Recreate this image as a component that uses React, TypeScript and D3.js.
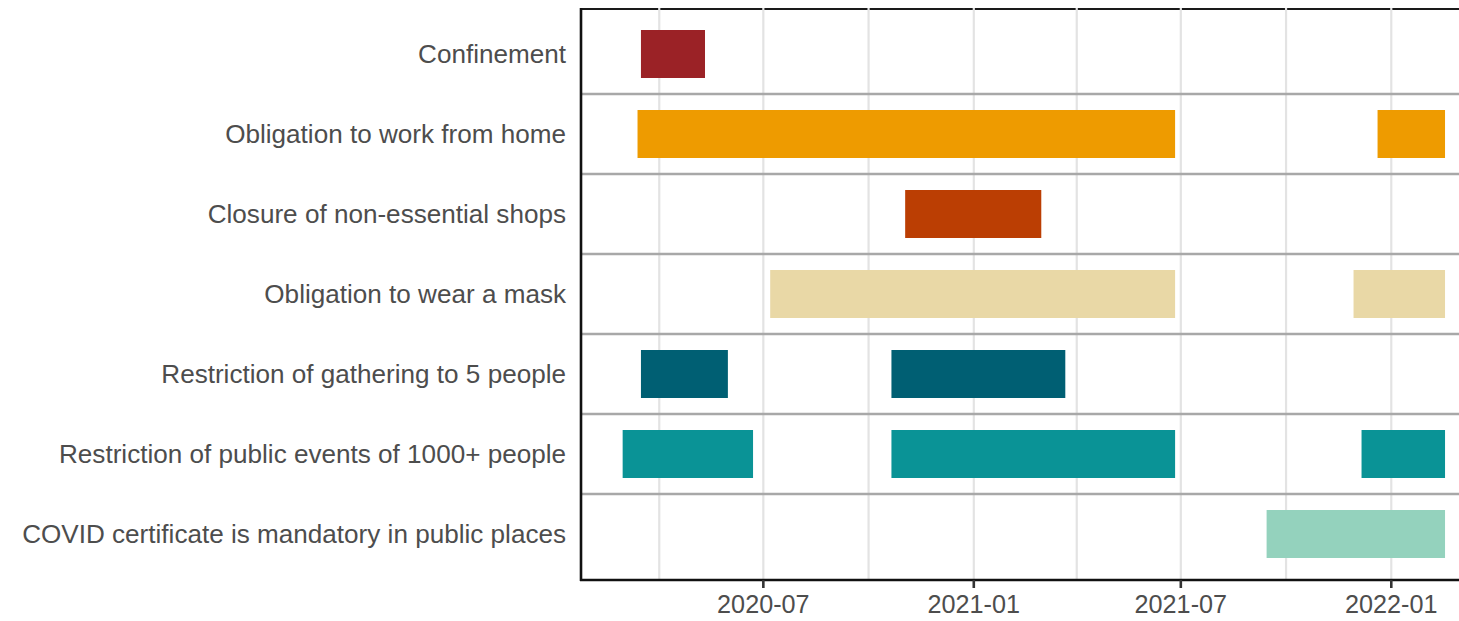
import React from "react";
import * as d3 from "d3";

const categories = [
  "Confinement",
  "Obligation to work from home",
  "Closure of non-essential shops",
  "Obligation to wear a mask",
  "Restriction of gathering to 5 people",
  "Restriction of public events of 1000+ people",
  "COVID certificate is mandatory in public places",
];

const categoryColors = ["#9B2226", "#EE9B00", "#BB3E03", "#E9D8A6", "#005F73", "#0A9396", "#94D2BD"];

// periods: [category index, start, end]
const periodCategory = [0, 1, 1, 2, 3, 3, 4, 4, 5, 5, 5, 6];
const periodStart = [
  "2020-03-16", "2020-03-13", "2021-12-20", "2020-11-02", "2020-07-07", "2021-11-29",
  "2020-03-16", "2020-10-21", "2020-02-29", "2020-10-21", "2021-12-06", "2021-09-14",
];
const periodEnd = [
  "2020-05-11", "2021-06-26", "2022-02-17", "2021-03-01", "2021-06-26", "2022-02-17",
  "2020-05-31", "2021-03-22", "2020-06-22", "2021-06-26", "2022-02-17", "2022-02-17",
];

const gridDates = ["2020-04-01", "2020-07-01", "2020-10-01", "2021-01-01", "2021-04-01", "2021-07-01", "2021-10-01", "2022-01-01"];
const tickDates = ["2020-07-01", "2021-01-01", "2021-07-01", "2022-01-01"];
const tickLabels = ["2020-07", "2021-01", "2021-07", "2022-01"];

const parse = (s: string) => new Date(s + "T00:00:00Z");

export default function App() {
  const W = 1459;
  const H = 621;
  const left = 581;
  const right = 1459;
  const top = 8;
  const bottom = 580;

  const x = d3
    .scaleUtc()
    .domain([new Date(Date.UTC(2020, 0, 23, 14)), new Date(Date.UTC(2022, 2, 1, 5))])
    .range([left, right]);
  const y = d3.scaleBand<string>().domain(categories).range([14, 574]).padding(0);
  const barH = y.bandwidth() * 0.6;

  const font = "'Liberation Sans', Arial, Helvetica, sans-serif";

  return (
    <svg width={W} height={H} style={{ position: "absolute", left: 0, top: 0, background: "#fff" }}>
      <rect x={0} y={0} width={W} height={H} fill="#fff" />
      {/* top border */}
      <line x1={left} x2={right} y1={top + 1} y2={top + 1} stroke="#1a1a1a" strokeWidth={2.2} />
      {/* vertical grid */}
      {gridDates.map((d) => (
        <line key={d} x1={x(parse(d))} x2={x(parse(d))} y1={top} y2={bottom} stroke="#e3e3e3" strokeWidth={2.2} />
      ))}
      {/* row separators */}
      {categories.slice(1).map((c) => (
        <line key={c} x1={left} x2={right} y1={y(c)!} y2={y(c)!} stroke="#a8a8a8" strokeWidth={2.6} />
      ))}
      {/* bars */}
      {periodCategory.map((ci, i) => {
        const c = categories[ci];
        const x0 = x(parse(periodStart[i]));
        const x1 = x(parse(periodEnd[i]));
        return (
          <rect
            key={i}
            x={x0}
            y={y(c)! + (y.bandwidth() - barH) / 2}
            width={x1 - x0}
            height={barH}
            fill={categoryColors[ci]}
          />
        );
      })}
      {/* axes */}
      <line x1={left} x2={left} y1={top} y2={bottom + 1} stroke="#111" strokeWidth={2.6} />
      <line x1={left - 1} x2={right} y1={bottom} y2={bottom} stroke="#111" strokeWidth={2.6} />
      {tickDates.map((d, i) => (
        <g key={d}>
          <line x1={x(parse(d))} x2={x(parse(d))} y1={bottom} y2={bottom + 8} stroke="#333" strokeWidth={2.6} />
          <text
            x={x(parse(d))}
            y={613}
            textAnchor="middle"
            fontFamily={font}
            fontSize={25.2}
            fill="#4d4d4d"
          >
            {tickLabels[i]}
          </text>
        </g>
      ))}
      {categories.map((c) => (
        <text
          key={c}
          x={566}
          y={y(c)! + y.bandwidth() / 2}
          dy="0.35em"
          textAnchor="end"
          fontFamily={font}
          fontSize={26.1}
          fill="#4d4d4d"
        >
          {c}
        </text>
      ))}
    </svg>
  );
}
